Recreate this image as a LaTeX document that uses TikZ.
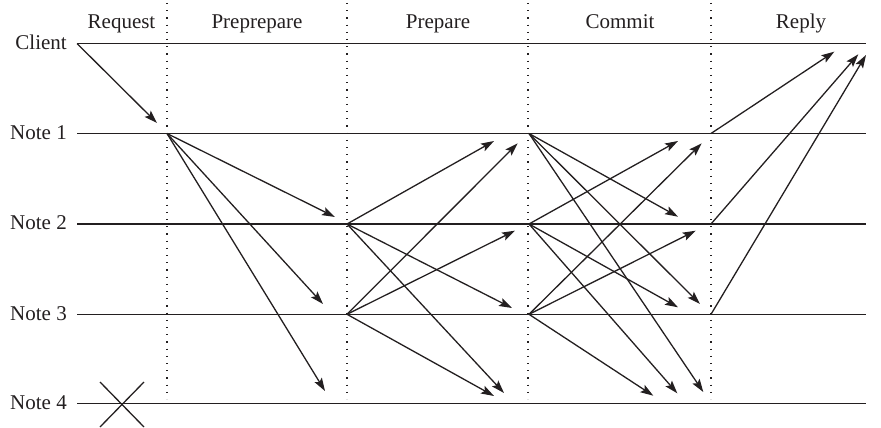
\documentclass[tikz,border=0pt]{standalone}
\usepackage{fontspec}
\setmainfont{Liberation Serif}
\usetikzlibrary{arrows.meta}
\definecolor{ink}{RGB}{35,31,32}
\begin{document}
\begin{tikzpicture}[x=1pt,y=-1pt,
  lane/.style={line width=1.5pt, draw=ink},
  phase/.style={line width=1.2pt, dash pattern=on 1.2pt off 6pt, draw=ink},
  msg/.style={line width=1.3pt, draw=ink, -{Stealth[length=13pt,width=8.5pt,inset=2.5pt]}},
  lbl/.style={font=\fontsize{21}{24}\selectfont, text=ink, inner sep=0pt},
  cross/.style={line width=1.3pt, draw=ink},
]
\useasboundingbox (0,0) rectangle (881,428);
% headers
\node[lbl, anchor=base] (hreq) at (121.5,29) {Request};
\node[lbl, anchor=base] (hpre) at (257,29) {Preprepare};
\node[lbl, anchor=base] (hprep) at (438,29) {Prepare};
\node[lbl, anchor=base] (hcom) at (620,29) {Commit};
\node[lbl, anchor=base] (hrep) at (801,29) {Reply};
% lane labels
\node[lbl, anchor=base east] (lc) at (67,49.5) {Client};
\node[lbl, anchor=base east] (l1) at (67,139) {Note 1};
\node[lbl, anchor=base east] (l2) at (67,229.5) {Note 2};
\node[lbl, anchor=base east] (l3) at (67,320) {Note 3};
\node[lbl, anchor=base east] (l4) at (67,409) {Note 4};
% lanes
\coordinate (cs) at (77,43.5);  \coordinate (ce) at (866,43.5);
\coordinate (as) at (77,133.5); \coordinate (ae) at (866,133.5);
\coordinate (bs) at (77,224);   \coordinate (be) at (866,224);
\coordinate (ds) at (77,314.3); \coordinate (de) at (866,314.3);
\coordinate (es) at (77,403.3); \coordinate (ee) at (866,403.3);
\draw[lane] (cs) -- (ce);
\draw[lane] (as) -- (ae);
\draw[lane] (bs) -- (be);
\draw[lane] (ds) -- (de);
\draw[lane] (es) -- (ee);
% phase separators
\coordinate (v1t) at (167,3); \coordinate (v1b) at (167,399);
\coordinate (v2t) at (347,3); \coordinate (v2b) at (347,399);
\coordinate (v3t) at (528,3); \coordinate (v3b) at (528,399);
\coordinate (v4t) at (711,3); \coordinate (v4b) at (711,399);
\draw[phase] (v1t) -- (v1b);
\draw[phase] (v2t) -- (v2b);
\draw[phase] (v3t) -- (v3b);
\draw[phase] (v4t) -- (v4b);
% request
\coordinate (rq) at (157,123);
\draw[msg] (cs) -- (rq);
% preprepare
\coordinate (n1) at (167,133.5);
\coordinate (pp2) at (335,217);
\coordinate (pp3) at (323,304);
\coordinate (pp4) at (325,391);
\draw[msg] (n1) -- (pp2);
\draw[msg] (n1) -- (pp3);
\draw[msg] (n1) -- (pp4);
% prepare
\coordinate (p2) at (347,224);
\coordinate (p3) at (347,314.3);
\coordinate (q21) at (494,141);
\coordinate (q23) at (512,308);
\coordinate (q24) at (504,393);
\coordinate (q31) at (517.7,143.3);
\coordinate (q32) at (515,230.7);
\coordinate (q34) at (494,396);
\draw[msg] (p2) -- (q21);
\draw[msg] (p2) -- (q23);
\draw[msg] (p2) -- (q24);
\draw[msg] (p3) -- (q31);
\draw[msg] (p3) -- (q32);
\draw[msg] (p3) -- (q34);
% commit
\coordinate (k1) at (529,133.5);
\coordinate (k2) at (529,224);
\coordinate (k3) at (529,314.3);
\coordinate (m12) at (678,216.7);
\coordinate (m13) at (700,304);
\coordinate (m14) at (703.3,392);
\coordinate (m21) at (678,141);
\coordinate (m23) at (678,307.3);
\coordinate (m24) at (677.3,393.3);
\coordinate (m31) at (701.7,143.3);
\coordinate (m32) at (695.7,230.7);
\coordinate (m34) at (653.3,395.7);
\draw[msg] (k1) -- (m12);
\draw[msg] (k1) -- (m13);
\draw[msg] (k1) -- (m14);
\draw[msg] (k2) -- (m21);
\draw[msg] (k2) -- (m23);
\draw[msg] (k2) -- (m24);
\draw[msg] (k3) -- (m31);
\draw[msg] (k3) -- (m32);
\draw[msg] (k3) -- (m34);
% reply
\coordinate (r1) at (711,133.5);
\coordinate (r2) at (711,224);
\coordinate (r3) at (711,314.3);
\coordinate (t1) at (834.3,51.7);
\coordinate (t2) at (858.3,54.3);
\coordinate (t3) at (866,55);
\draw[msg] (r1) -- (t1);
\draw[msg] (r2) -- (t2);
\draw[msg] (r3) -- (t3);
% failed node
\coordinate (x1) at (100,382); \coordinate (x2) at (144,427);
\coordinate (x3) at (144,382); \coordinate (x4) at (100,427);
\draw[cross] (x1) -- (x2);
\draw[cross] (x3) -- (x4);
\end{tikzpicture}
\end{document}
